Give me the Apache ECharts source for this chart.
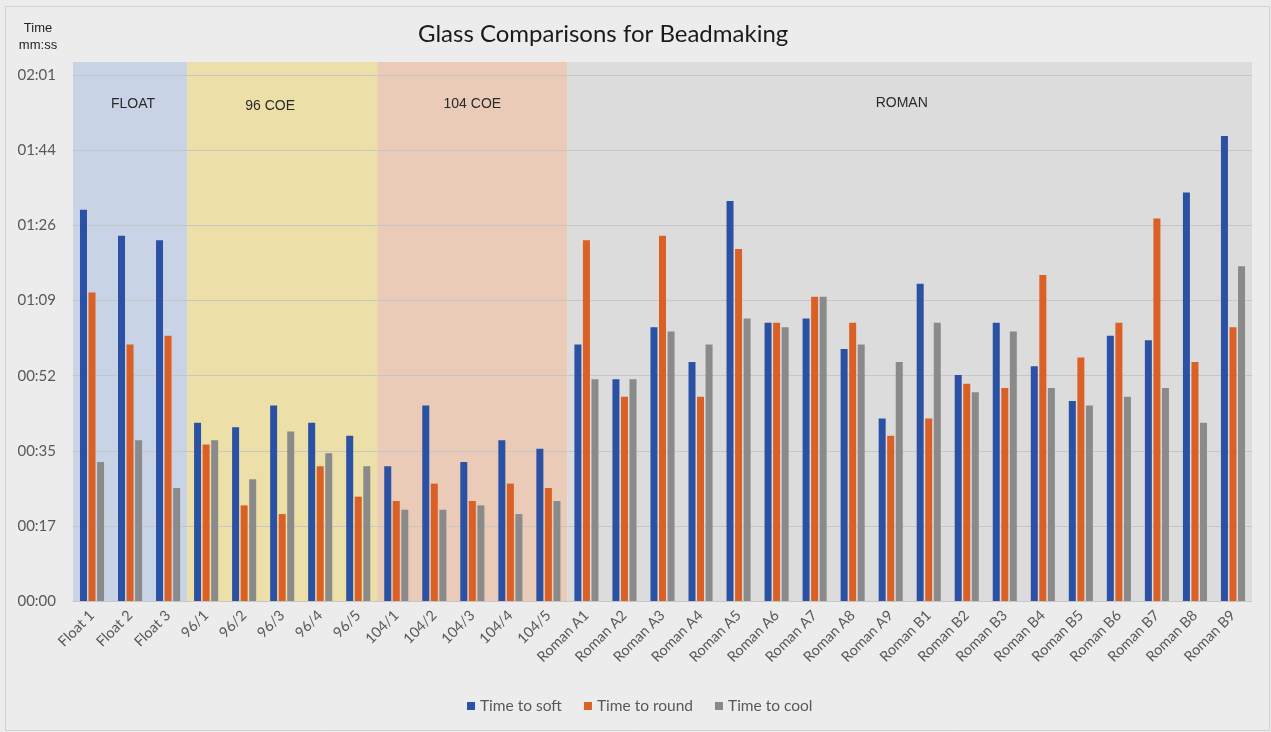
<!DOCTYPE html>
<html>
<head>
<meta charset="utf-8">
<title>Glass Comparisons for Beadmaking</title>
<script src="https://cdn.jsdelivr.net/npm/echarts@6/dist/echarts.min.js"></script>
<style>
  html, body { margin: 0; padding: 0; background: #ececec; }
  #chart { width: 1271px; height: 732px; }
</style>
</head>
<body>
<div id="chart"></div>
<script>
// Glass samples tested
const categories = [
  'Float 1', 'Float 2', 'Float 3',
  '96/1', '96/2', '96/3', '96/4', '96/5',
  '104/1', '104/2', '104/3', '104/4', '104/5',
  'Roman A1', 'Roman A2', 'Roman A3', 'Roman A4', 'Roman A5', 'Roman A6',
  'Roman A7', 'Roman A8', 'Roman A9',
  'Roman B1', 'Roman B2', 'Roman B3', 'Roman B4', 'Roman B5', 'Roman B6',
  'Roman B7', 'Roman B8', 'Roman B9'
];

// Times in seconds
const timeToSoft = [
  90, 84, 83,
  41, 40, 45, 41, 38,
  31, 45, 32, 37, 35,
  59, 51, 63, 55, 92, 64, 65, 58, 42,
  73, 52, 64, 54, 46, 61, 60, 94, 107
];
const timeToRound = [
  71, 59, 61,
  36, 22, 20, 31, 24,
  23, 27, 23, 27, 26,
  83, 47, 84, 47, 81, 64, 70, 64, 38,
  42, 50, 49, 75, 56, 64, 88, 55, 63
];
const timeToCool = [
  32, 37, 26,
  37, 28, 39, 34, 31,
  21, 21, 22, 20, 23,
  51, 51, 62, 59, 65, 63, 70, 59, 55,
  64, 48, 62, 49, 45, 47, 49, 41, 77
];

// Glass families shaded behind the bars: label, first and last sample
const groupNames = ['FLOAT', '96 COE', '104 COE', 'ROMAN'];
const groupFirst = ['Float 1', '96/1', '104/1', 'Roman A1'];
const groupLast = ['Float 3', '96/5', '104/5', 'Roman B9'];

// Shading colour and caption nudge for each family
const groupColors = ['#c8d4e5', '#ecdfa7', '#eacbb7', '#dcdcdc'];
const groupLabelOffsets = [[3, 2], [-12, 4], [0, 2], [-8, 1]];

// Axis steps: 0.0002 day = 17.28 s
const yStep = 17.28;
const yMax = 124;

function mmss(v) {
  const s = Math.round(v);
  const m = Math.floor(s / 60);
  const r = s % 60;
  return String(m).padStart(2, '0') + ':' + String(r).padStart(2, '0');
}

const chart = echarts.init(document.getElementById('chart'), null, { renderer: 'canvas' });

const labelFont = 'Lato, "Open Sans", sans-serif';
const plainFont = '"Liberation Sans", Arial, sans-serif';

const option = {
  backgroundColor: '#ececec',
  animation: false,
  title: [
    {
      text: 'Glass Comparisons for Beadmaking',
      left: 413,
      top: 17,
      textStyle: { fontFamily: labelFont, fontSize: 24, fontWeight: 'normal', color: '#1a1a1a' }
    },
    {
      text: 'Time\nmm:ss',
      left: 33,
      top: 15,
      textAlign: 'center',
      textStyle: { fontFamily: plainFont, fontSize: 13, fontWeight: 'normal', color: '#222', lineHeight: 17 }
    }
  ],
  graphic: [
    {
      type: 'rect',
      left: 3, top: 4,
      shape: { width: 1264, height: 724 },
      style: { fill: 'none', stroke: '#d2d2d2', lineWidth: 1 },
      silent: true
    }
  ],
  legend: {
    bottom: 13,
    left: 462,
    icon: 'rect',
    itemWidth: 8,
    itemHeight: 8,
    itemGap: 22,
    textStyle: { fontFamily: labelFont, fontSize: 15.5, color: '#595959' },
    data: ['Time to soft', 'Time to round', 'Time to cool']
  },
  grid: { left: 73, right: 19, top: 62, bottom: 131, containLabel: false },
  xAxis: {
    type: 'category',
    data: categories,
    axisTick: { show: false },
    axisLine: { lineStyle: { color: '#c4c4c4', width: 1 } },
    axisLabel: {
      rotate: 45,
      interval: 0,
      margin: 12,
      fontFamily: labelFont,
      fontSize: 14.5,
      color: '#595959'
    }
  },
  yAxis: {
    type: 'value',
    min: 0,
    max: yMax,
    interval: yStep,
    z: 1.5,
    axisLine: { show: false },
    axisTick: { show: false },
    splitLine: { showMaxLine: false, lineStyle: { color: '#c6c6c6', width: 1 } },
    axisLabel: {
      showMaxLabel: false,
      margin: 17,
      fontFamily: labelFont,
      fontSize: 15,
      color: '#595959',
      formatter: mmss
    }
  },
  series: [
    {
      name: 'Time to soft',
      type: 'bar',
      data: timeToSoft,
      barWidth: 7,
      barGap: '22%',
      itemStyle: { color: '#2b51a4' },
      markArea: {
        silent: true,
        z: 1,
        label: {
          show: true,
          position: 'insideTop',
          distance: 33,
          fontFamily: plainFont,
          fontSize: 14,
          color: '#2a2a2a'
        },
        data: groupNames.map((name, i) => [
          {
            name: name,
            xAxis: groupFirst[i],
            itemStyle: { color: groupColors[i] },
            label: { offset: groupLabelOffsets[i] }
          },
          { xAxis: groupLast[i] }
        ])
      }
    },
    {
      name: 'Time to round',
      type: 'bar',
      data: timeToRound,
      barWidth: 7,
      barGap: '22%',
      itemStyle: { color: '#da6025' }
    },
    {
      name: 'Time to cool',
      type: 'bar',
      data: timeToCool,
      barWidth: 7,
      barGap: '22%',
      itemStyle: { color: '#8a8a8a' }
    }
  ]
};

chart.setOption(option);
</script>
</body>
</html>
